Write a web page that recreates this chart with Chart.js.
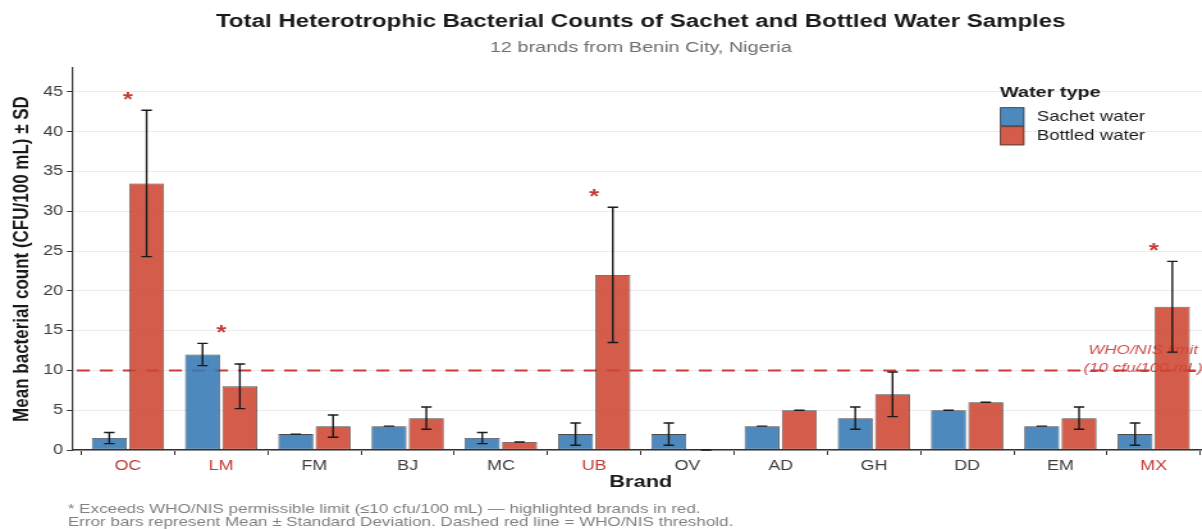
<!DOCTYPE html>
<html>
<head>
<meta charset="utf-8">
<script src="https://cdn.jsdelivr.net/npm/chart.js@4.4.1/dist/chart.umd.min.js"></script>
<style>
  html, body { margin: 0; padding: 0; background: #ffffff; overflow: hidden; width: 1202px; height: 529px; }
  /* the figure is laid out on a narrower canvas and widened horizontally */
  #wrap { width: 950px; height: 529px; transform: scaleX(1.28); transform-origin: 0 0; }
  canvas { display: block; }
</style>
</head>
<body>
<div id="wrap"><canvas id="chart" width="950" height="529"></canvas></div>
<script>
// Brands sampled in Benin City
const brands = ['OC', 'LM', 'FM', 'BJ', 'MC', 'UB', 'OV', 'AD', 'GH', 'DD', 'EM', 'MX'];

// Mean heterotrophic counts (CFU/100 mL) and standard deviations
const sachetMean  = [1.5, 12, 2, 3, 1.5, 2, 2, 3, 4, 5, 3, 2];
const sachetSD    = [0.7, 1.4, 0, 0, 0.7, 1.4, 1.4, 0, 1.4, 0, 0, 1.4];
const bottledMean = [33.5, 8, 3, 4, 1, 22, 0, 5, 7, 6, 4, 18];
const bottledSD   = [9.2, 2.8, 1.4, 1.4, 0, 8.5, 0, 0, 2.8, 0, 1.4, 5.7];

// Brands flagged as exceeding the permissible limit
const exceeds = [true, true, false, false, false, true, false, false, false, false, false, true];

// WHO/NIS permissible limit and y-axis ticks
const whoLimit = 10;
const yTicks = [0, 5, 10, 15, 20, 25, 30, 35, 40, 45];

const FONT = "'Liberation Sans', Arial, Helvetica, sans-serif";
const RED = '#c43a35';
const SACHET_FILL = 'rgba(53,121,181,0.88)';
const BOTTLED_FILL = 'rgba(206,70,49,0.88)';
const BAR_EDGE = 'rgba(45,45,45,0.85)';

function text(ctx, str, x, y, font, color, align, baseline) {
  ctx.save();
  ctx.font = font;
  ctx.fillStyle = color;
  ctx.textAlign = align || 'center';
  ctx.textBaseline = baseline || 'middle';
  ctx.fillText(str, x, y);
  ctx.restore();
}

const decor = {
  id: 'decor',
  beforeDatasetsDraw(chart) {
    const { ctx, chartArea, scales } = chart;
    const y = scales.y.getPixelForValue(whoLimit);
    ctx.save();
    ctx.strokeStyle = '#cf3b3b';
    ctx.lineWidth = 2;
    ctx.setLineDash([10.2, 7.8]);
    ctx.lineDashOffset = 14.3;
    ctx.beginPath();
    ctx.moveTo(chartArea.left, y);
    ctx.lineTo(chartArea.right, y);
    ctx.stroke();
    ctx.restore();
    const lx = 893;
    text(ctx, 'WHO/NIS limit', lx, y - 20, 'italic 13.3px ' + FONT, 'rgba(200,45,45,0.85)');
    text(ctx, '(10 cfu/100 mL)', lx, y - 2, 'italic 13.3px ' + FONT, 'rgba(200,45,45,0.85)');
  },
  afterDatasetsDraw(chart) {
    const { ctx, scales } = chart;
    const ys = scales.y, xs = scales.x;
    const cap = 4.1;
    ctx.save();
    ctx.strokeStyle = '#1a1a1a';
    ctx.lineWidth = 1.4;
    chart.data.datasets.forEach((ds, di) => {
      const meta = chart.getDatasetMeta(di);
      meta.data.forEach((bar, i) => {
        const m = ds.data[i].y, sd = ds.sd[i];
        const x = bar.x;
        const yt = ys.getPixelForValue(m + sd);
        const yb = ys.getPixelForValue(m - sd);
        ctx.beginPath();
        ctx.moveTo(x, yt); ctx.lineTo(x, yb);
        ctx.moveTo(x - cap, yt); ctx.lineTo(x + cap, yt);
        ctx.moveTo(x - cap, yb); ctx.lineTo(x + cap, yb);
        ctx.stroke();
      });
    });
    ctx.restore();
    // significance markers above flagged brands
    const size = 20;
    brands.forEach((b, i) => {
      if (!exceeds[i]) return;
      const top = Math.max(sachetMean[i] + sachetSD[i], bottledMean[i] + bottledSD[i]);
      const cy = ys.getPixelForValue(top + 1.9);
      text(ctx, '*', xs.getPixelForValue(i), cy + 0.56 * size, 'bold ' + size + 'px ' + FONT, RED, 'center', 'alphabetic');
    });
  },
  afterDraw(chart) {
    const { ctx, chartArea } = chart;
    const cx = (chartArea.left + chartArea.right) / 2;
    text(ctx, 'Total Heterotrophic Bacterial Counts of Sachet and Bottled Water Samples', cx, 22, 'bold 18.8px ' + FONT, '#1a1a1a');
    text(ctx, '12 brands from Benin City, Nigeria', cx, 48, '15.5px ' + FONT, '#6e6e6e');
    text(ctx, 'Brand', cx, 482, 'bold 17px ' + FONT, '#1a1a1a');

    ctx.save();
    ctx.translate(17.6, (chartArea.top + chartArea.bottom) / 2);
    ctx.rotate(-Math.PI / 2);
    text(ctx, 'Mean bacterial count (CFU/100 mL) \u00b1 SD', 0, 0, 'bold 17px ' + FONT, '#1a1a1a');
    ctx.restore();

    // legend
    const lx = 781.25;
    text(ctx, 'Water type', lx, 96.5, 'bold 15.5px ' + FONT, '#1a1a1a', 'left', 'alphabetic');
    const keys = [['Sachet water', SACHET_FILL, 107.3], ['Bottled water', BOTTLED_FILL, 126.3]];
    keys.forEach(([label, fill, ky]) => {
      ctx.save();
      ctx.fillStyle = fill;
      ctx.fillRect(lx, ky, 19, 19);
      ctx.strokeStyle = BAR_EDGE;
      ctx.lineWidth = 0.8;
      ctx.strokeRect(lx + 0.4, ky + 0.4, 18.2, 18.2);
      ctx.restore();
      text(ctx, label, 810, ky + 9.5, '14.5px ' + FONT, '#1a1a1a', 'left', 'middle');
    });

    // footnotes
    text(ctx, '* Exceeds WHO/NIS permissible limit (\u226410 cfu/100 mL) \u2014 highlighted brands in red.', 53, 509, '13.3px ' + FONT, '#808080', 'left', 'middle');
    text(ctx, 'Error bars represent Mean \u00b1 Standard Deviation. Dashed red line = WHO/NIS threshold.', 53, 522, '13.3px ' + FONT, '#808080', 'left', 'middle');
  }
};

new Chart(document.getElementById('chart'), {
  type: 'bar',
  data: {
    datasets: [
      {
        label: 'Sachet water',
        data: sachetMean.map((v, i) => ({ x: i, y: v })),
        sd: sachetSD,
        backgroundColor: SACHET_FILL,
        borderColor: BAR_EDGE,
        borderWidth: 0.8,
        borderSkipped: false,
        categoryPercentage: 0.8,
        barPercentage: 0.9375
      },
      {
        label: 'Bottled water',
        data: bottledMean.map((v, i) => ({ x: i, y: v })),
        sd: bottledSD,
        backgroundColor: BOTTLED_FILL,
        borderColor: BAR_EDGE,
        borderWidth: 0.8,
        borderSkipped: false,
        categoryPercentage: 0.8,
        barPercentage: 0.9375
      }
    ]
  },
  options: {
    responsive: false,
    animation: false,
    devicePixelRatio: 1,
    layout: { padding: { top: 68, right: 5, bottom: 0, left: 0 } },
    plugins: {
      legend: { display: false },
      title: { display: false },
      tooltip: { enabled: false }
    },
    scales: {
      x: {
        type: 'linear',
        min: -0.6,
        max: 11.6,
        bounds: 'data',
        offset: false,
        afterBuildTicks: s => { s.ticks = brands.map((b, i) => ({ value: i })); },
        afterFit: s => { s.height = 79; },
        ticks: {
          callback: v => brands[v],
          color: c => (exceeds[c.tick.value] ? RED : '#3d3d3d'),
          font: { family: FONT, size: 14 },
          padding: 3,
          autoSkip: false,
          maxRotation: 0
        },
        grid: { drawOnChartArea: false, drawTicks: true, tickLength: 5, tickColor: '#333333', lineWidth: 1 },
        border: { display: true, color: '#333333', width: 1.5 }
      },
      y: {
        min: 0,
        max: 48,
        bounds: 'data',
        afterBuildTicks: s => { s.ticks = yTicks.map(v => ({ value: v })); },
        afterFit: s => { s.width = 56.25; },
        ticks: { font: { family: FONT, size: 14 }, color: '#3d3d3d', padding: 3 },
        grid: { color: '#ebebeb', lineWidth: 1, drawTicks: true, tickLength: 4, tickColor: '#333333' },
        border: { display: true, color: '#333333', width: 1.2 }
      }
    }
  },
  plugins: [decor]
});
</script>
</body>
</html>
